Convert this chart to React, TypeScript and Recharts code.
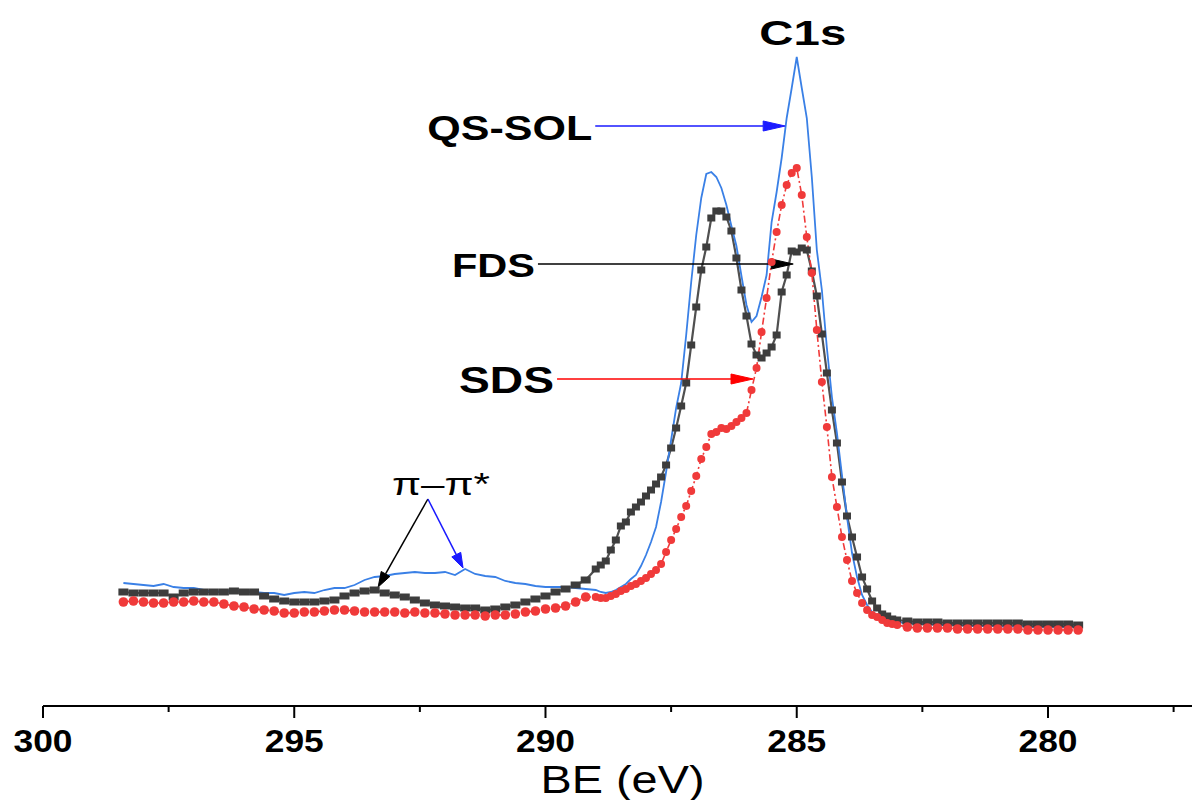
import React from 'react';
import { LineChart, Line, XAxis, YAxis, ReferenceLine, ReferenceDot, Label } from 'recharts';

const FONT = '"Liberation Sans", Arial, Helvetica, sans-serif';

// binding energy grid (eV): 0.2 eV steps on the flat parts, 0.1 eV across the C1s envelope
const BE = [
  298.4, 298.2, 298.0, 297.8, 297.6, 297.4, 297.2, 297.0, 296.8, 296.6,
  296.4, 296.2, 296.0, 295.8, 295.6, 295.4, 295.2, 295.0, 294.8, 294.6,
  294.4, 294.2, 294.0, 293.8, 293.6, 293.4, 293.2, 293.0, 292.8, 292.6,
  292.4, 292.2, 292.0, 291.8, 291.6, 291.4, 291.2, 291.0, 290.8, 290.6,
  290.4, 290.2, 290.0, 289.8, 289.6, 289.4, 289.2,
  289.0, 288.9, 288.8, 288.7, 288.6, 288.5, 288.4, 288.3, 288.2, 288.1,
  288.0, 287.9, 287.8, 287.7, 287.6, 287.5, 287.4, 287.3, 287.2, 287.1,
  287.0, 286.9, 286.8, 286.7, 286.6, 286.5, 286.4, 286.3, 286.2, 286.1,
  286.0, 285.9, 285.8, 285.7, 285.6, 285.5, 285.4, 285.3, 285.2, 285.1,
  285.0, 284.9, 284.8, 284.7, 284.6, 284.5, 284.4, 284.3, 284.2, 284.1,
  284.0, 283.9, 283.8, 283.7, 283.6, 283.5, 283.4, 283.3, 283.2, 283.1,
  283.0,
  282.8, 282.6, 282.4, 282.2, 282.0, 281.8, 281.6, 281.4, 281.2, 281.0,
  280.8, 280.6, 280.4, 280.2, 280.0, 279.8, 279.6, 279.4,
];

// intensities (a.u.)
const QS_SOL = [
  124, 123, 122, 121, 123, 120, 119, 119, 117, 115,
  116, 116, 116, 115, 114, 114, 112, 114, 115, 114,
  117, 119, 119, 122, 127, 130, 131, 133, 134, 135,
  134, 134, 135, 132, 138, 133, 131, 130, 126, 124,
  123, 121, 120, 120, 120, 119, 118,
  117, 115, 114, 115, 117, 120, 123, 128, 132, 141,
  152, 165, 180, 205, 235, 267, 299, 324, 372, 425,
  472, 509, 533, 535, 530, 519, 502, 481, 461, 431,
  402, 385, 391, 410, 432, 485, 515, 549, 589, 619,
  650, 619, 589, 530, 457, 417, 359, 310, 274, 232,
  190, 154, 130, 112, 102, 95, 92, 89, 88, 86,
  85,
  84, 83, 83, 82, 82, 82, 81, 81, 81, 81,
  80, 81, 80, 80, 80, 80, 80, 80,
];

const FDS = [
  115, 114, 114, 114, 114, 110, 114, 115, 115, 115,
  115, 116, 115, 115, 111, 108, 106, 105, 105, 105,
  106, 107, 111, 114, 116, 117, 114, 112, 110, 107,
  104, 102, 101, 100, 99, 99, 97, 98, 100, 102,
  105, 108, 111, 115, 118, 122, 127,
  138, 142, 146, 157, 167, 181, 185, 195, 200, 205,
  211, 217, 223, 230, 242, 259, 279, 301, 324, 362,
  400, 437, 460, 489, 496, 496, 490, 476, 449, 417,
  391, 363, 352, 349, 354, 360, 372, 415, 432, 456,
  455, 459, 457, 436, 411, 373, 334, 297, 264, 225,
  191, 170, 150, 130, 118, 106, 99, 93, 91, 88,
  87,
  86, 85, 85, 85, 84, 84, 84, 84, 84, 84,
  84, 84, 83, 83, 83, 83, 83, 82,
];

const SDS = [
  105, 106, 105, 104, 104, 105, 105, 106, 105, 105,
  103, 101, 100, 98, 97, 96, 94, 94, 95, 95,
  96, 97, 97, 96, 95, 95, 95, 95, 94, 95,
  94, 94, 93, 92, 92, 92, 91, 92, 92, 93,
  95, 96, 98, 99, 101, 105, 110,
  110, 109, 109, 111, 113, 116, 118, 121, 123, 126,
  129, 133, 137, 143, 155, 167, 178, 190, 201, 216,
  231, 248, 260, 273, 275, 279, 278, 281, 285, 289,
  294, 317, 339, 375, 409, 445, 475, 502, 522, 534,
  539, 512, 470, 434, 377, 325, 280, 230, 200, 170,
  147, 126, 114, 104, 97, 92, 90, 87, 84, 83,
  82,
  80, 79, 79, 79, 79, 78, 78, 78, 78, 78,
  78, 78, 77, 77, 77, 77, 77, 77,
];

const MAJOR_TICKS = [300, 295, 290, 285, 280];
const MINOR_TICKS = [297.5, 292.5, 287.5, 282.5, 277.5];

const data = BE.map((be, i) => ({ be, qs: QS_SOL[i], fds: FDS[i], sds: SDS[i] }));

const AxisTick = (props: any) => {
  const { x, y, payload } = props;
  const major = MAJOR_TICKS.includes(payload.value);
  return (
    <g>
      <line x1={x} y1={y} x2={x} y2={y + (major ? 12 : 6)} stroke="#000" strokeWidth={2} />
      {major && (
        <text x={x} y={y + 46} textAnchor="middle" fontFamily={FONT} fontWeight="bold" fontSize={31}
          textLength={59} lengthAdjust="spacingAndGlyphs" fill="#000">
          {payload.value}
        </text>
      )}
    </g>
  );
};

// arrow with optional label at its tail
const arrow = (color: string, headLen: number, headW: number, lw: number, label?: { text: string; size: number; width: number; dy: number }) =>
  (p: any) => {
    const { x1, y1, x2, y2 } = p;
    const len = Math.hypot(x2 - x1, y2 - y1) || 1;
    const ux = (x2 - x1) / len, uy = (y2 - y1) / len;
    const bx = x2 - ux * headLen, by = y2 - uy * headLen;
    const pts = `${x2},${y2} ${bx - uy * headW},${by + ux * headW} ${bx + uy * headW},${by - ux * headW}`;
    return (
      <g>
        <line x1={x1} y1={y1} x2={bx} y2={by} stroke={color} strokeWidth={lw} />
        <polygon points={pts} fill={color} stroke={color} strokeWidth={1} />
        {label && (
          <text x={x1 - 3} y={y1 + label.dy} textAnchor="end" fontFamily={FONT} fontWeight="bold"
            fontSize={label.size} textLength={label.width} lengthAdjust="spacingAndGlyphs" fill="#000">
            {label.text}
          </text>
        )}
      </g>
    );
  };

const piArrow = (color: string, withText: boolean) => (p: any) => {
  const base = arrow(color, 15, 5, 1.5)(p);
  return (
    <g>
      {base}
      {withText && (
        <text x={p.x1 + 13} y={p.y1 - 4} textAnchor="middle" fontFamily={FONT} fontSize={32}
          textLength={98} lengthAdjust="spacingAndGlyphs" fill="#000">
          π–π*
        </text>
      )}
    </g>
  );
};

// the 0.2 eV parts of the grid get slightly wider markers so the bands close up like the original
const dense = (be: number) => be <= 289.0 && be >= 283.0;

const SquareDot = (p: any) => {
  const w = dense(p.payload.be) ? 8 : 10;
  return <rect key={`f${p.index}`} x={p.cx - w / 2} y={p.cy - 3.5} width={w} height={7} fill="#3d3d3d" />;
};
const RoundDot = (p: any) => (
  <circle key={`s${p.index}`} cx={p.cx} cy={p.cy} r={dense(p.payload.be) ? 4 : 4.8} fill="#f03a3a" />
);

export default function App() {
  return (
    <div style={{ position: 'absolute', left: 0, top: 0, background: '#fff' }}>
      <LineChart width={1192} height={800} data={data} margin={{ top: 0, right: 0, bottom: 0, left: 43 }}>
        <XAxis
          dataKey="be"
          type="number"
          reversed
          domain={[277.134, 300]}
          allowDataOverflow
          ticks={[...MAJOR_TICKS, ...MINOR_TICKS].sort((a, b) => b - a)}
          interval={0}
          tickSize={0}
          tickMargin={0}
          tickLine={false}
          tick={<AxisTick />}
          axisLine={{ stroke: '#000', strokeWidth: 2 }}
          height={94}
        >
          <Label
            content={(lp: any) => {
              const vb = lp.viewBox;
              return (
                <text x={vb.x + vb.width / 2 + 5} y={vb.y + 87} textAnchor="middle" fontFamily={FONT}
                  fontSize={39} textLength={164} lengthAdjust="spacingAndGlyphs" fill="#000">
                  BE (eV)
                </text>
              );
            }}
          />
        </XAxis>
        <YAxis hide type="number" domain={[1, 707]} allowDataOverflow />

        <Line dataKey="fds" type="linear" stroke="#505050" strokeWidth={2.2} dot={SquareDot} activeDot={false} isAnimationActive={false} />
        <Line dataKey="sds" type="linear" stroke="#f03a3a" strokeWidth={1.6} strokeDasharray="7 3 2 3" dot={RoundDot} activeDot={false} isAnimationActive={false} />
        <Line dataKey="qs" type="linear" stroke="#3a80e6" strokeWidth={1.8} dot={false} activeDot={false} isAnimationActive={false} />

        <ReferenceLine segment={[{ x: 289.01, y: 581 }, { x: 285.23, y: 581 }]} ifOverflow="visible"
          shape={arrow('#1a1aff', 22, 5, 1.6, { text: 'QS-SOL', size: 35, width: 165, dy: 14 })} />
        <ReferenceLine segment={[{ x: 290.15, y: 443 }, { x: 285.07, y: 443 }]} ifOverflow="visible"
          shape={arrow('#000', 22, 5, 1.4, { text: 'FDS', size: 33, width: 83, dy: 13 })} />
        <ReferenceLine segment={[{ x: 289.77, y: 328 }, { x: 285.87, y: 328 }]} ifOverflow="visible"
          shape={arrow('#ff0000', 22, 5, 1.4, { text: 'SDS', size: 36, width: 95, dy: 14 })} />
        <ReferenceLine segment={[{ x: 292.34, y: 208 }, { x: 293.33, y: 120 }]} ifOverflow="visible"
          shape={piArrow('#000', true)} />
        <ReferenceLine segment={[{ x: 292.34, y: 208 }, { x: 291.64, y: 139 }]} ifOverflow="visible"
          shape={piArrow('#1a1aff', false)} />
        <ReferenceDot x={284.88} y={662} ifOverflow="visible"
          shape={(p: any) => (
            <text x={p.cx} y={p.cy} textAnchor="middle" fontFamily={FONT} fontWeight="bold" fontSize={35}
              textLength={87} lengthAdjust="spacingAndGlyphs" fill="#000">
              C1s
            </text>
          )} />
      </LineChart>
    </div>
  );
}
